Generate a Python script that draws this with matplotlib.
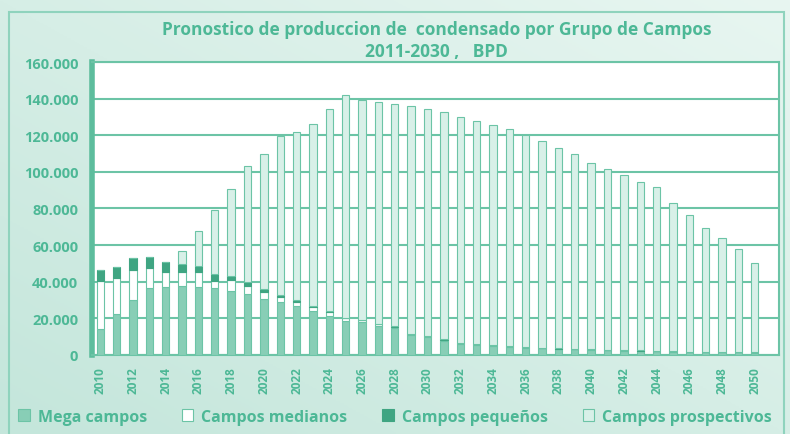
import numpy as np
import matplotlib.pyplot as plt
from matplotlib.patches import Rectangle
from matplotlib.ticker import FuncFormatter
from matplotlib.colors import LinearSegmentedColormap

plt.rcParams['font.family'] = ['Open Sans', 'DejaVu Sans']

years = list(range(2010, 2051))

# BPD per group of fields
mega = [14200, 22400, 29700, 36400, 37000, 37500, 37000, 36400, 35100, 33300,
        30600, 28800, 26600, 24200, 21100, 18700, 18000, 16000, 14600, 10900,
        9700, 7800, 6000, 5500, 5000, 4500, 4000, 3500, 3200, 3000,
        2800, 2500, 2300, 2100, 2000, 1800, 1600, 1500, 1400, 1300, 1200]
medianos = [26400, 19500, 16400, 11000, 8500, 8000, 8200, 4200, 6000, 4200,
            3600, 2700, 2500, 1800, 2200, 1300, 1000, 800, 600, 500,
            400, 400, 300, 300, 300, 300, 300, 200, 200, 200,
            200, 200, 200, 200, 100, 100, 100, 100, 100, 100, 100]
pequenos = [5500, 6000, 6700, 6000, 5500, 4200, 3600, 3700, 2200, 2200,
            1900, 1000, 700, 600, 500, 400, 300, 300, 300, 200,
            200, 200, 200, 200, 200, 100, 100, 100, 100, 100,
            100, 100, 100, 100, 100, 100, 100, 100, 100, 100, 100]
prospectivos = [0, 0, 0, 0, 0, 6800, 19100, 35100, 47400, 63400,
                73400, 87000, 92200, 99300, 110600, 121600, 120200, 121300, 121700, 124400,
                124100, 124200, 123600, 121900, 120200, 118400, 115600, 112800, 109600, 106200,
                102000, 99000, 95800, 92300, 89400, 81100, 74500, 67500, 62200, 56400, 48900]

green = '#4db896'
edge = '#6cc4a6'

fig = plt.figure(figsize=(7.9, 4.35), dpi=100)
fig.patch.set_facecolor('#cfece3')

# soft background gradient
bg = fig.add_axes([0, 0, 1, 1], zorder=-10)
gx, gy = np.meshgrid(np.linspace(0, 1, 200), np.linspace(0, 1, 200))
grad = 0.5 * gx + 0.5 * (1 - gy)
cmap = LinearSegmentedColormap.from_list('bg', ['#c4e6db', '#e8f6f1'])
bg.imshow(grad, cmap=cmap, aspect='auto', extent=[0, 1, 0, 1])
bg.add_patch(Rectangle((0.012, -0.01), 0.98, 0.98, fill=False, ec='#8fd3bd', lw=1.5))
bg.set_xlim(0, 1)
bg.set_ylim(0, 1)
bg.axis('off')

ax = fig.add_axes([0.1165, 0.182, 0.870, 0.673])
ax.set_facecolor('white')

x = np.array(years)
w = 0.45
b1 = np.array(mega)
b2 = b1 + np.array(medianos)
b3 = b2 + np.array(pequenos)
ax.bar(x, mega, w, color='#88ceb6', edgecolor=edge, linewidth=0.8, label='Mega campos', zorder=3)
ax.bar(x, medianos, w, bottom=b1, color='white', edgecolor=edge, linewidth=0.8, label='Campos medianos', zorder=3)
ax.bar(x, pequenos, w, bottom=b2, color='#3fa582', edgecolor='#3fa582', linewidth=0.8, label='Campos pequeños', zorder=3)
ax.bar(x, prospectivos, w, bottom=b3, color='#d8f0e8', edgecolor=edge, linewidth=0.8, label='Campos prospectivos', zorder=3)

ax.set_xlim(2009.5, 2051.5)
ax.set_ylim(0, 160000)
ax.set_yticks(range(0, 160001, 20000))
ax.yaxis.set_major_formatter(FuncFormatter(lambda v, p: f'{int(v):,}'.replace(',', '.')))
ax.set_xticks(years[::2])
ax.set_xticklabels([str(y) for y in years[::2]], rotation=90)
ax.grid(axis='y', color=edge, linewidth=1.5, zorder=0)
ax.tick_params(axis='both', length=0, colors=green)
ax.tick_params(axis='y', pad=10, labelsize=10.5)
ax.tick_params(axis='x', pad=8, labelsize=8.5)
for lab in ax.get_xticklabels() + ax.get_yticklabels():
    lab.set_fontweight('bold')
for s in ax.spines.values():
    s.set_color(edge)
    s.set_linewidth(1.5)
ax.spines['left'].set_color('#5dbd9d')
ax.spines['left'].set_linewidth(4)

fig.text(0.553, 0.930, 'Pronostico de produccion de  condensado por Grupo de Campos',
         ha='center', va='center', color=green, fontsize=12.5, fontweight='bold')
fig.text(0.553, 0.880, '2011-2030 ,   BPD', ha='center', va='center',
         color=green, fontsize=12.5, fontweight='bold')

leg = fig.legend(loc='center', bbox_to_anchor=(0.5, 0.04), ncol=4, frameon=False,
                 handlelength=0.7, handleheight=0.7, columnspacing=2.2, handletextpad=0.5,
                 prop={'weight': 'bold', 'size': 11.5})
for t in leg.get_texts():
    t.set_color(green)

fig.savefig('out.png', dpi=100, facecolor=fig.get_facecolor())
